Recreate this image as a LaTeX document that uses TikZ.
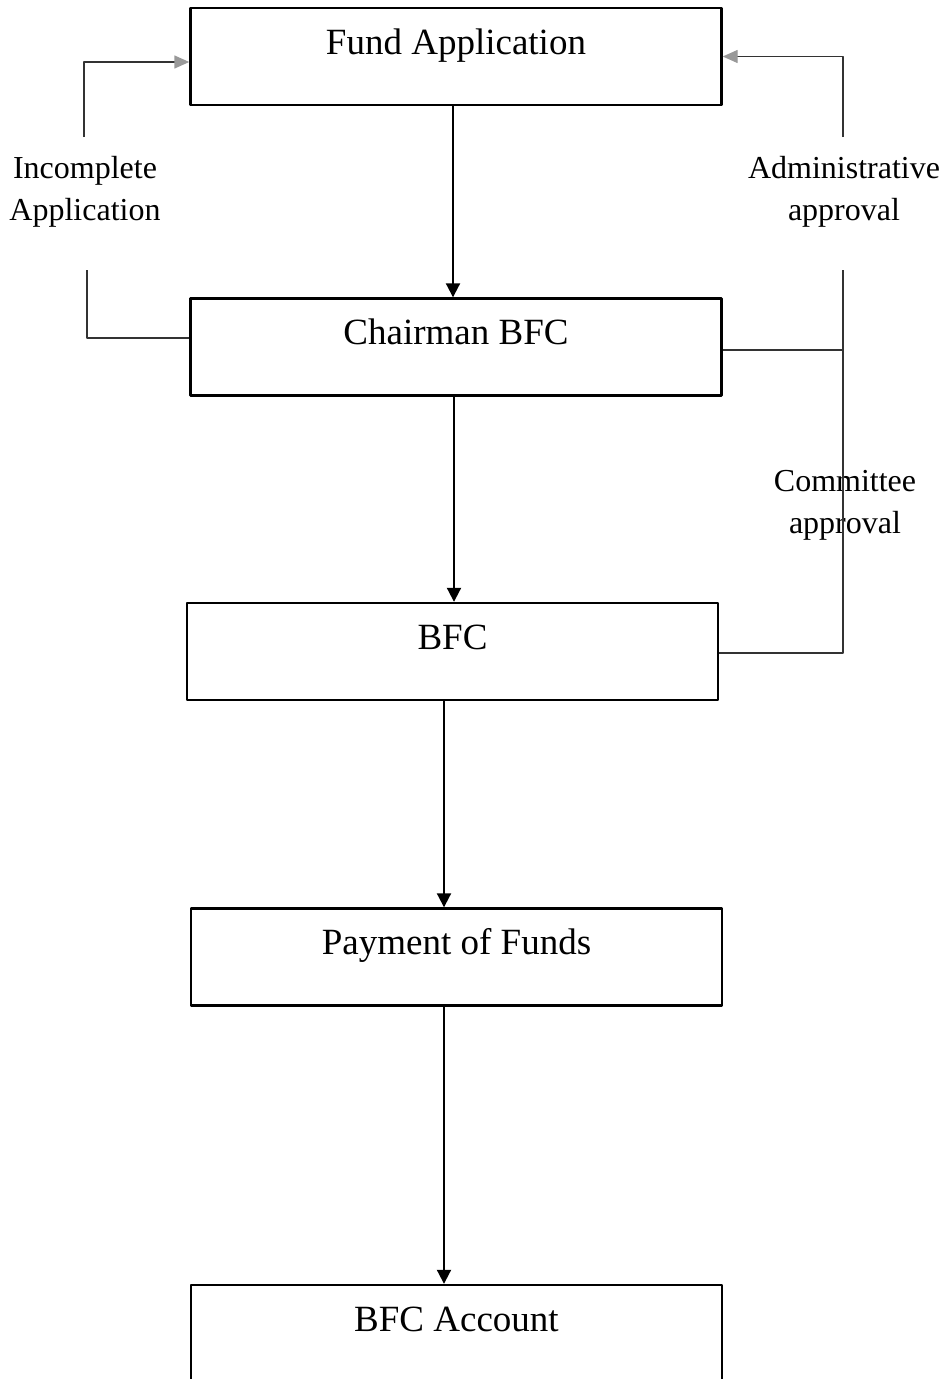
\documentclass[tikz,border=0pt]{standalone}
\usepackage{fontspec}
\setmainfont{Liberation Serif}
\usetikzlibrary{arrows.meta}
\begin{document}
\begin{tikzpicture}[x=1pt, y=-1pt, line join=round, >={Triangle[length=14pt,width=14pt]},
	stage/.style={draw, line width=2.4pt, minimum width=531pt, inner sep=0pt, text height=46pt, text depth=51pt, font=\fontsize{37}{44}\selectfont},
	note/.style={align=center, inner sep=0pt, font=\fontsize{32}{42}\selectfont},
	flow/.style={->, line width=2pt},
	backline/.style={line width=1.4pt, draw=black!80},
	back/.style={backline, -{Triangle[length=15pt,width=13pt,color=black!40]}}]
	\path[use as bounding box, clip] (0,0) rectangle (947,1379);
	% boxes
	\node[stage] (fund) at (456,56.5) {Fund Application};
	\node[stage] (chair) at (456,347) {Chairman BFC};
	\node[stage] (bfc) at (452.5,651.5) {BFC};
	\node[stage] (pay) at (456.5,957) {Payment of Funds};
	\node[stage] (acct) at (456.5,1333.5) {BFC Account};
	% side labels
	\node[note] (incl) at (85,192) {Incomplete\\Application};
	\node[note] (admin) at (844,192) {Administrative\\approval};
	\node[note] (comm) at (845,505) {Committee\\approval};
	\path (87,270) coordinate (ia) (84,137) coordinate (ib)
		(843,270) coordinate (ra) (843,137) coordinate (rb);
	% main flow
	\draw[flow] ([xshift=-3pt]fund.south) -- ([xshift=-3pt]chair.north);
	\draw[flow] ([xshift=-2pt]chair.south) -- ([xshift=-2pt]chair.south |- bfc.north);
	\draw[flow] ([xshift=-8.5pt]bfc.south) -- ([xshift=-8.5pt]bfc.south |- pay.north);
	\draw[flow] ([xshift=-12.5pt]pay.south) -- ([xshift=-12.5pt]pay.south |- acct.north);
	% returns
	\draw[backline] ([yshift=9pt]chair.west) -| (ia);
	\draw[back] (ib) |- ([yshift=-5.5pt]fund.west);
	\draw[backline] ([yshift=-3pt]chair.east) -- ([yshift=-3pt]chair.east -| ra);
	\draw[backline] (ra) |- ([yshift=-1.5pt]bfc.east);
	\draw[back] (rb) |- (fund.east);
\end{tikzpicture}
\end{document}
